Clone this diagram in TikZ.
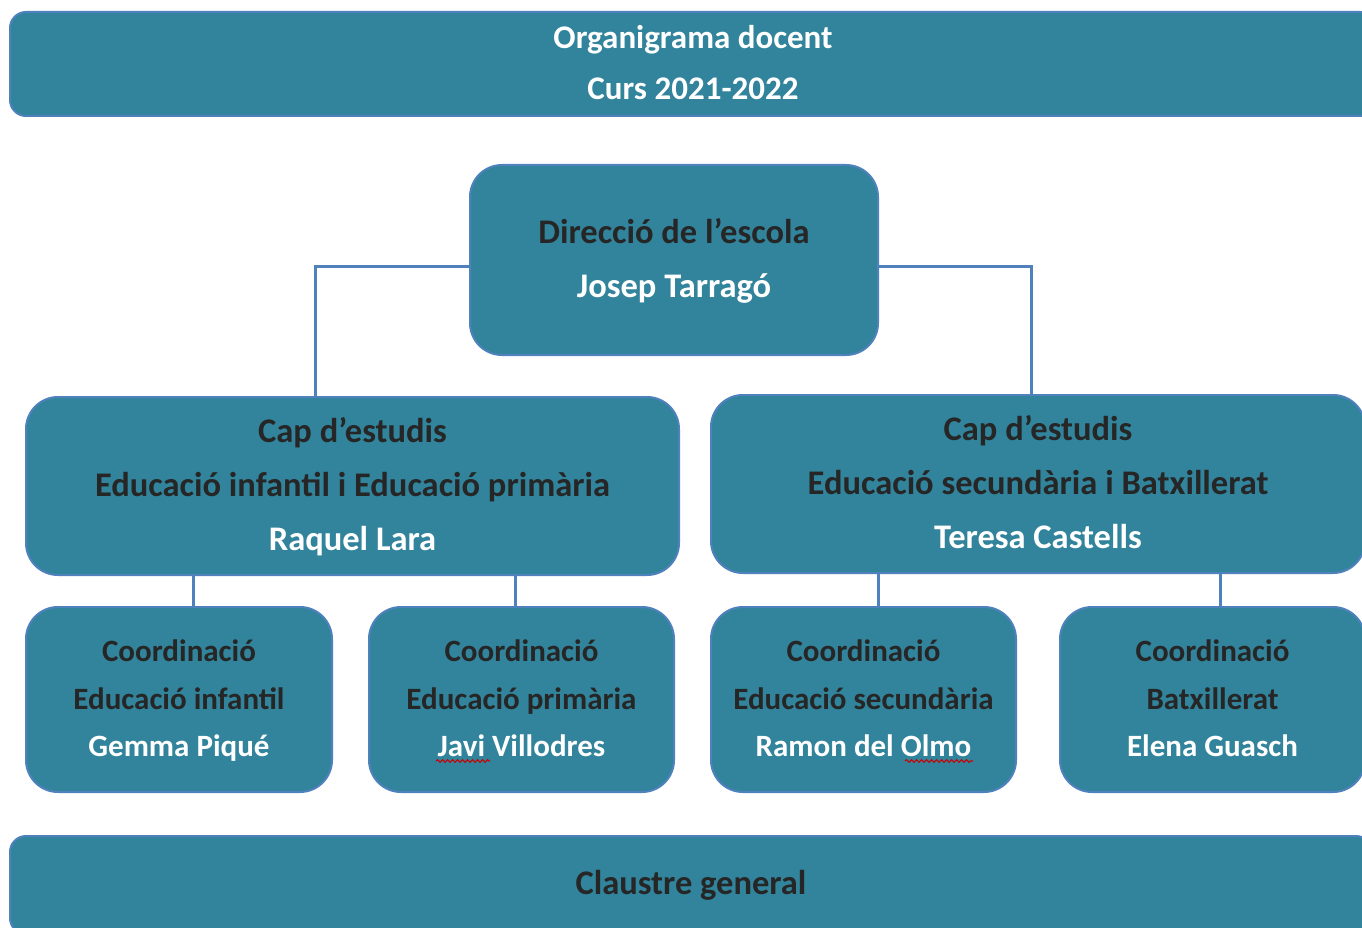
\documentclass[tikz,border=0pt]{standalone}
\usepackage{fontspec}
\setmainfont{Carlito}
\usetikzlibrary{decorations.pathmorphing}
\definecolor{boxfill}{HTML}{31849B}
\definecolor{boxline}{HTML}{4F81BD}
\definecolor{darktxt}{HTML}{262626}
\tikzset{
  orgbox/.style={draw=boxline, line width=2pt, fill=boxfill, rounded corners=32pt,
    align=center, inner sep=0pt, font=\bfseries\fontsize{34.5}{54}\selectfont},
  coordbox/.style={orgbox, font=\bfseries\fontsize{31}{47.5}\selectfont},
  titlebox/.style={orgbox, rounded corners=16pt, font=\bfseries\fontsize{33}{51}\selectfont},
  bottombox/.style={orgbox, rounded corners=16pt, font=\bfseries\fontsize{34.5}{54}\selectfont},
  link/.style={draw=boxline, line width=3pt},
  squiggle/.style={draw=red!80!black, line width=1.1pt, decorate,
    decoration={snake, amplitude=1.3pt, segment length=5pt}}
}
\begin{document}
\begin{tikzpicture}[x=1pt, y=-1pt]
\clip (0,0) rectangle (1362,928);
\useasboundingbox (0,0) rectangle (1362,928);
\fill[white] (0,0) rectangle (1362,928);

\node[titlebox, minimum width=1366pt, minimum height=104pt] (title) at (693,64)
  {\color{white}\strut Organigrama docent\\\color{white}\strut Curs 2021-2022};

\node[orgbox, minimum width=408pt, minimum height=190pt] (dir) at (674,260)
  {\color{darktxt}\strut Direcció de l’escola\\\color{white}\strut Josep Tarragó};

\node[orgbox, minimum width=653pt, minimum height=178pt] (capL) at (352.5,486)
  {\color{darktxt}\strut Cap d’estudis\\\color{darktxt}\strut Educació infantil i Educació primària\\\color{white}\strut Raquel Lara};

\node[orgbox, minimum width=654pt, minimum height=178pt] (capR) at (1038,484)
  {\color{darktxt}\strut Cap d’estudis\\\color{darktxt}\strut Educació secundària i Batxillerat\\\color{white}\strut Teresa Castells};

\node[coordbox, minimum width=306pt, minimum height=185pt] (c1) at (179,699.5)
  {\color{darktxt}\strut Coordinació\\\color{darktxt}\strut Educació infantil\\\color{white}\strut Gemma Piqué};
\node[coordbox, minimum width=305pt, minimum height=185pt] (c2) at (521.5,699.5)
  {\color{darktxt}\strut Coordinació\\\color{darktxt}\strut Educació primària\\\color{white}\strut Javi Villodres};
\node[coordbox, minimum width=305pt, minimum height=185pt] (c3) at (863.5,699.5)
  {\color{darktxt}\strut Coordinació\\\color{darktxt}\strut Educació secundària\\\color{white}\strut Ramon del Olmo};
\node[coordbox, minimum width=305pt, minimum height=185pt] (c4) at (1212.5,699.5)
  {\color{darktxt}\strut Coordinació\\\color{darktxt}\strut Batxillerat\\\color{white}\strut Elena Guasch};

\node[bottombox, minimum width=1362pt, minimum height=98pt] (claustre) at (691,885)
  {\color{darktxt}Claustre general};

% connectors
\draw[link] ([yshift=-6pt]dir.west) -| ([xshift=-37.5pt]capL.north);
\draw[link] ([yshift=-6pt]dir.east) -| ([xshift=-7pt]capR.north);
\draw[link] ([xshift=14pt]c1.north) -- ([xshift=14pt]c1.north |- capL.south);
\draw[link] ([xshift=-6.5pt]c2.north) -- ([xshift=-6.5pt]c2.north |- capL.south);
\draw[link] ([xshift=14.5pt]c3.north) -- ([xshift=14.5pt]c3.north |- capR.south);
\draw[link] ([xshift=7.5pt]c4.north) -- ([xshift=7.5pt]c4.north |- capR.south);

% spell-check marks
\draw[squiggle] (436,761) -- (490,761);
\draw[squiggle] (905,761) -- (973,761);
\end{tikzpicture}
\end{document}
